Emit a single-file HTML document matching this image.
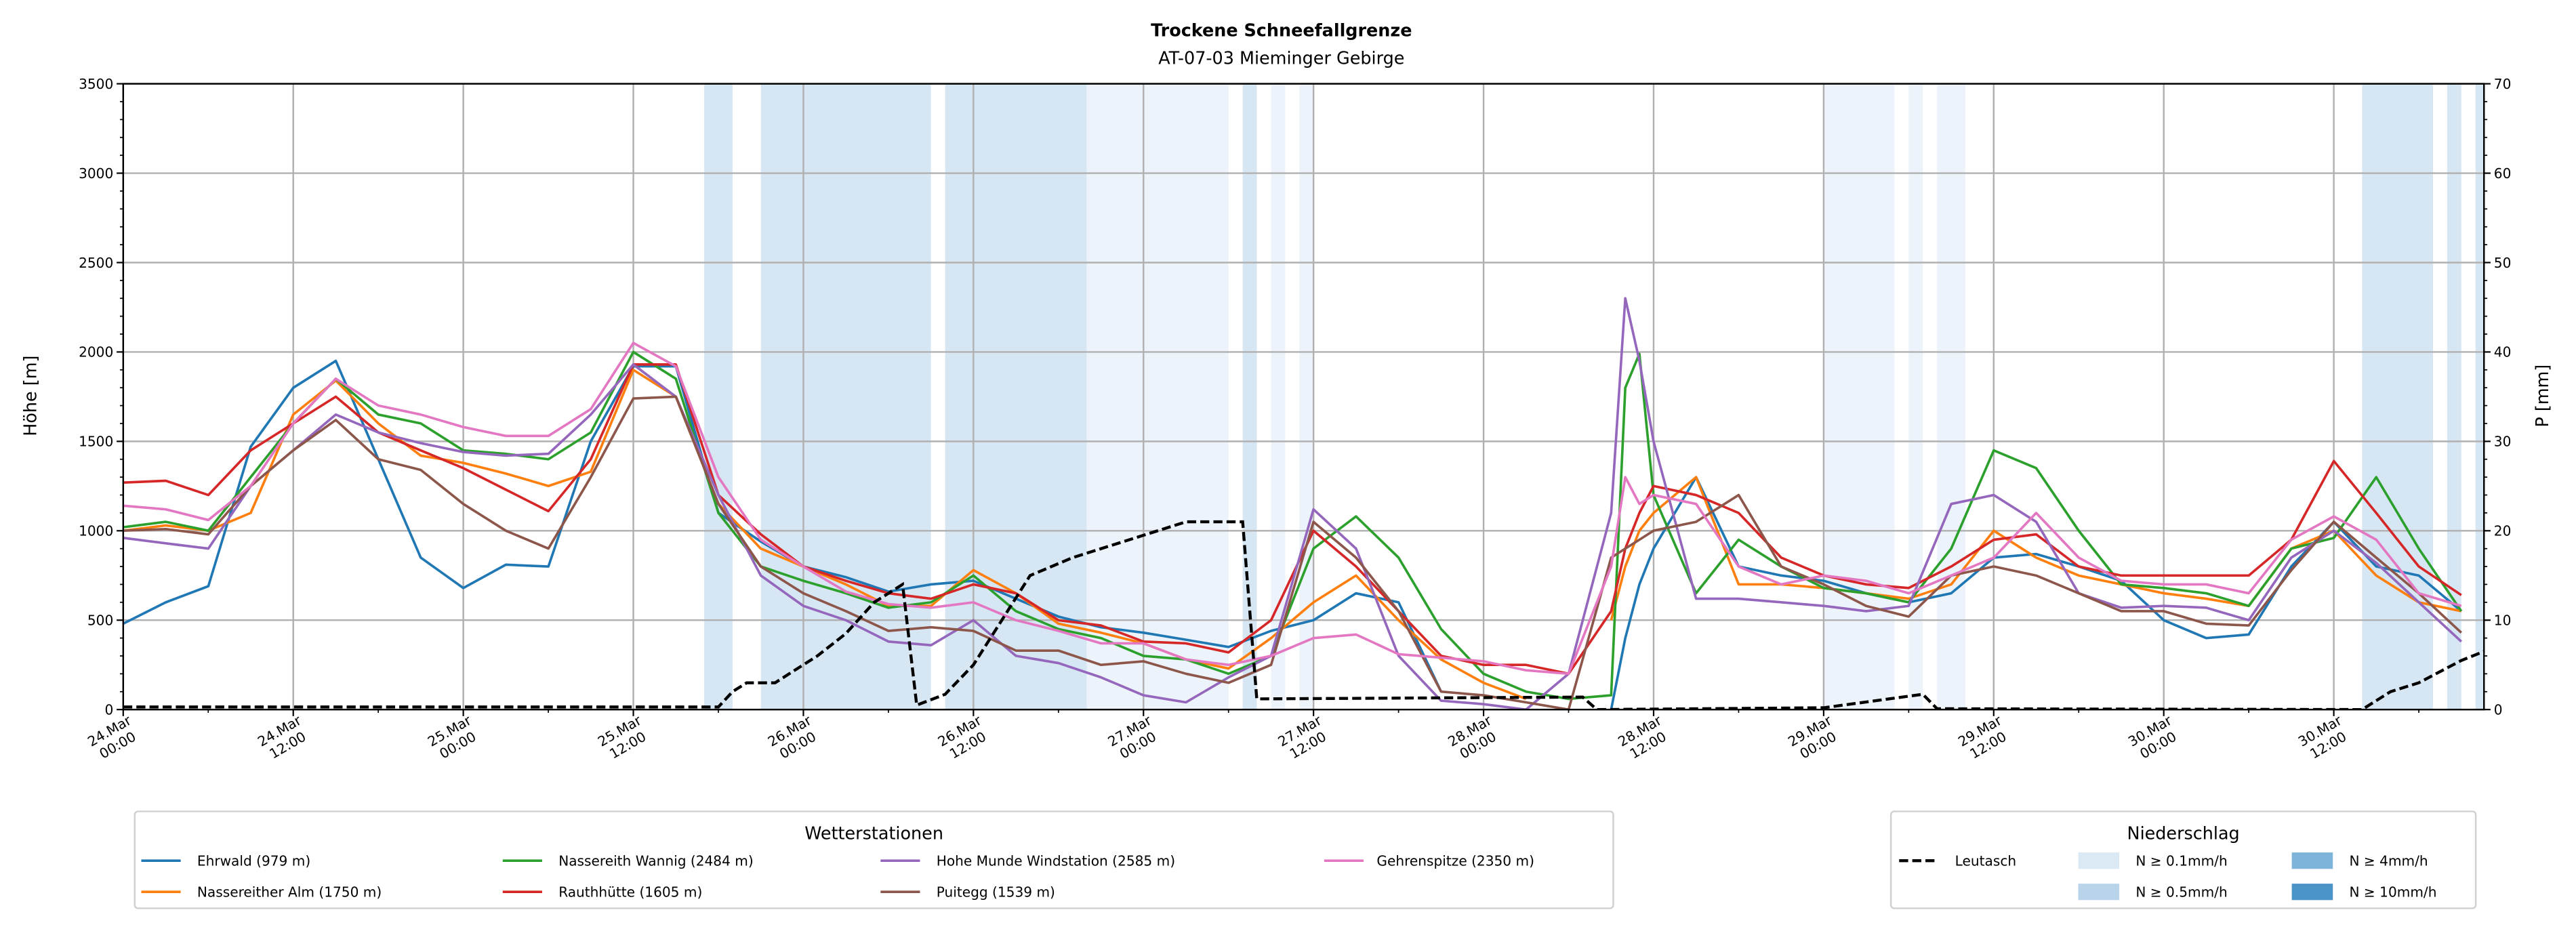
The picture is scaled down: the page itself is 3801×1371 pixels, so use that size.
<!DOCTYPE html>
<html><head><meta charset="utf-8">
<style>
html,body{margin:0;padding:0;background:#fff;}
svg{display:block;font-family:"DejaVu Sans","Liberation Sans",sans-serif;}
</style></head>
<body>
<svg id="chart" width="3801" height="1371" viewBox="0 0 1568 565.6" preserveAspectRatio="none" xmlns="http://www.w3.org/2000/svg">
<rect x="0" y="0" width="1568" height="565.6" fill="#fff"/>
<text x="780" y="22" text-anchor="middle" font-size="10.5" font-weight="bold">Trockene Schneefallgrenze</text>
<text x="780" y="39" text-anchor="middle" font-size="10.5">AT-07-03 Mieminger Gebirge</text>
<g id="bands"></g>
<g id="grid"></g>
<g id="series"></g>
<g id="axes"></g>
<text transform="translate(22,241) rotate(-90)" text-anchor="middle" font-size="10.5">Höhe [m]</text>
<text transform="translate(1551,241) rotate(-90)" text-anchor="middle" font-size="10.5">P [mm]</text>
<g id="legend1">
<rect x="82" y="494" width="900" height="59" fill="#fff" stroke="#d0d0d0" stroke-width="1" rx="2"/>
<text x="532" y="511" text-anchor="middle" font-size="10.5">Wetterstationen</text>
</g>
<g id="legend2">
<rect x="1151" y="494" width="356" height="59" fill="#fff" stroke="#d0d0d0" stroke-width="1" rx="2"/>
<text x="1329" y="511" text-anchor="middle" font-size="10.5">Niederschlag</text>
</g>
</svg>
<script>
const stationNames=["Ehrwald (979 m)","Nassereither Alm (1750 m)","Nassereith Wannig (2484 m)","Rauthhütte (1605 m)","Hohe Munde Windstation (2585 m)","Puitegg (1539 m)","Gehrenspitze (2350 m)"];
const hours=[0,3,6,9,12,15,18,21,24,27,30,33,36,39,42,45,48,51,54,57,60,63,66,69,72,75,78,81,84,87,90,93,96,99,102,105,106,107,108,111,114,117,120,123,126,129,132,135,138,141,144,147,150,153,156,159,162,165];
const ehrwald=[480,600,690,1470,1800,1950,1400,850,680,810,800,1500,1920,1920,1100,940,800,740,660,700,720,620,520,460,430,390,350,440,500,650,600,100,null,null,null,0,400,700,900,1300,800,750,720,650,600,650,850,870,800,720,500,400,420,800,1050,800,750,550];
const nassAlm=[1000,1030,1000,1100,1650,1840,1600,1420,1380,1320,1250,1330,1900,1750,1150,900,800,700,580,580,780,650,480,430,370,280,230,400,600,750,500,280,150,60,null,500,800,1000,1100,1300,700,700,680,650,620,700,1000,850,750,700,650,620,580,900,1000,750,600,550];
const nassWannig=[1020,1050,1000,1300,1600,1850,1650,1600,1450,1430,1400,1550,2000,1850,1100,800,720,650,570,600,750,550,450,400,300,280,200,300,900,1080,850,450,200,100,60,80,1800,1990,1200,650,950,800,680,650,600,900,1450,1350,1000,700,680,650,580,900,960,1300,900,550];
const rauth=[1270,1280,1200,1450,1600,1750,1550,1450,1350,1230,1110,1400,1930,1930,1200,980,800,720,650,620,700,650,500,470,380,370,320,500,1000,800,550,300,250,250,200,550,900,1100,1250,1200,1100,850,750,700,680,800,950,980,800,750,750,750,750,950,1390,1100,800,640];
const hoheMunde=[960,930,900,1250,1450,1650,1550,1490,1440,1420,1430,1650,1930,1750,1200,750,580,500,380,360,500,300,260,180,80,40,180,300,1120,900,300,50,30,0,200,1100,2300,1950,1500,620,620,600,580,550,580,1150,1200,1050,650,570,580,570,500,850,1000,820,600,380];
const puitegg=[1000,1010,980,1250,1450,1620,1400,1340,1150,1000,900,1300,1740,1750,1150,800,650,550,440,460,440,330,330,250,270,200,150,250,1050,850,550,100,80,40,0,850,900,950,1000,1050,1200,800,700,580,520,750,800,750,650,550,550,480,470,780,1050,850,650,430];
const gehren=[1140,1120,1060,1250,1600,1850,1700,1650,1580,1530,1530,1680,2050,1920,1300,950,800,660,590,570,600,500,440,370,370,280,250,300,400,420,310,290,270,220,200,800,1300,1150,1200,1150,800,700,750,720,650,750,850,1100,850,720,700,700,650,950,1080,950,650,580];
const leutaschHours=[0,42,43,44,46,47,49,51,53,55,56,58,60,62,64,67,72,75,79,80,103,104,120,127,128,158,160,162,165,166.6];
const leutaschValues=[0.3,0.3,2,3,3,4,6,8.5,12,14,0.5,1.7,5,10,15,17,19.5,21,21,1.2,1.4,0,0.2,1.7,0.1,0,2,3,5.5,6.5];
const bandStarts=[41,45,58,68,79,81,83,120,126,128,158,164,166];
const bandEnds=[43,57,68,78,80,82,84,125,127,130,163,165,166.6];
const bandLevels=[1,1,1,0,1,0,0,0,0,0,1,1,1];
const yTicks=[0,500,1000,1500,2000,2500,3000,3500];
const y2Ticks=[0,10,20,30,40,50,60,70];
const xTickDays=["24.Mar","24.Mar","25.Mar","25.Mar","26.Mar","26.Mar","27.Mar","27.Mar","28.Mar","28.Mar","29.Mar","29.Mar","30.Mar","30.Mar"];
const xTickTimes=["00:00","12:00","00:00","12:00","00:00","12:00","00:00","12:00","00:00","12:00","00:00","12:00","00:00","12:00"];

const NS="http://www.w3.org/2000/svg";
const L=75,R=1512,T=51,B=432,XMAX=166.6;
const xs=h=>L+h/XMAX*(R-L);
const ys=v=>B-v/3500*(B-T);
const y2s=v=>B-v/70*(B-T);
function mk(tag,attrs,parent){const e=document.createElementNS(NS,tag);for(const k in attrs)e.setAttribute(k,attrs[k]);parent.appendChild(e);return e;}
const bandsG=document.getElementById('bands'),gridG=document.getElementById('grid'),serG=document.getElementById('series'),axG=document.getElementById('axes');
const bandColors=["#edf3fa","#d7e6f3"];
bandStarts.forEach((s,i)=>{
  const r=mk('rect',{x:xs(s),y:T,width:xs(bandEnds[i])-xs(s),height:B-T,fill:bandColors[bandLevels[i]]},bandsG);
  
  
});
yTicks.forEach(v=>{
  mk('line',{x1:L,x2:R,y1:ys(v),y2:ys(v),stroke:"#b0b0b0","stroke-width":1},gridG);
  mk('line',{x1:L-4,x2:L,y1:ys(v),y2:ys(v),stroke:"#000","stroke-width":0.9},axG);
  const t=mk('text',{x:L-6,y:ys(v)+3,"text-anchor":"end","font-size":"8.3"},axG);t.textContent=v;
  
  
});
for(let v=0;v<=3500;v+=100){mk('line',{x1:L-2,x2:L,y1:ys(v),y2:ys(v),stroke:"#000","stroke-width":0.7},axG);}
y2Ticks.forEach(v=>{
  mk('line',{x1:R,x2:R+4,y1:y2s(v),y2:y2s(v),stroke:"#000","stroke-width":0.9},axG);
  const t=mk('text',{x:R+6,y:y2s(v)+3,"font-size":"8.3"},axG);t.textContent=v;
  
  
});
for(let v=0;v<=70;v+=2){mk('line',{x1:R,x2:R+2,y1:y2s(v),y2:y2s(v),stroke:"#000","stroke-width":0.7},axG);}
xTickDays.forEach((d,i)=>{
  const h=i*12,x=xs(h);
  mk('line',{x1:x,x2:x,y1:T,y2:B,stroke:"#b0b0b0","stroke-width":1},gridG);
  mk('line',{x1:x,x2:x,y1:B,y2:B+4,stroke:"#000","stroke-width":0.9},axG);
  const g=mk('g',{transform:`translate(${x+6},${B+8}) rotate(-30)`},axG);
  
  
  const t1=mk('text',{x:-15,y:0,"text-anchor":"middle","font-size":"8.3"},g);t1.textContent=d;
  const t2=mk('text',{x:-15,y:10,"text-anchor":"middle","font-size":"8.3"},g);t2.textContent=xTickTimes[i];
});
for(let h=6;h<XMAX;h+=12){const x=xs(h);mk('line',{x1:x,x2:x,y1:B,y2:B+2,stroke:"#000","stroke-width":0.7},axG);}
mk('rect',{x:L,y:T,width:R-L,height:B-T,fill:"none",stroke:"#000","stroke-width":1},axG);

const colors=["#1f77b4","#ff7f0e","#2ca02c","#d62728","#9467bd","#8c564b","#e377c2"];
const seriesData=[ehrwald,nassAlm,nassWannig,rauth,hoheMunde,puitegg,gehren];
const seriesNames=["ehrwald-line","nassereither-alm-line","nassereith-wannig-line","rauthhuette-line","hohe-munde-line","puitegg-line","gehrenspitze-line"];
const clip=mk('clipPath',{id:'plotclip'},document.getElementById('chart'));
mk('rect',{x:L,y:T,width:R-L,height:B-T},clip);
serG.setAttribute('clip-path','url(#plotclip)');
seriesData.forEach((arr,si)=>{
  let d="",pen=false;
  arr.forEach((v,i)=>{ if(v===null){pen=false;return;} d+=(pen?"L":"M")+xs(hours[i]).toFixed(1)+","+ys(v).toFixed(1); pen=true;});
  const p=mk('path',{d:d,fill:"none",stroke:colors[si],"stroke-width":1.5,"stroke-linejoin":"round"},serG);
  
  
});
let ld="";leutaschHours.forEach((h,i)=>{ld+=(i?"L":"M")+xs(h).toFixed(1)+","+y2s(leutaschValues[i]).toFixed(1);});
const lp=mk('path',{d:ld,fill:"none",stroke:"#000","stroke-width":1.8,"stroke-dasharray":"5.5,2.5"},serG);



const lg1=document.getElementById('legend1');
const legPos=[[86,524],[86,543],[306,524],[306,543],[536,524],[536,543],[806,524]];
const txtX=[120,120,340,340,570,570,838];
legPos.forEach((p,i)=>{
  const g=mk('g',{},lg1);
  
  
  mk('line',{x1:p[0],x2:p[0]+24,y1:p[1],y2:p[1],stroke:colors[i],"stroke-width":1.5},g);
  const t=mk('text',{x:txtX[i],y:p[1]+3,"font-size":"8.3"},g);t.textContent=stationNames[i];
});
const lg2=document.getElementById('legend2');
const g0=mk('g',{},lg2);


mk('line',{x1:1156,x2:1180,y1:524,y2:524,stroke:"#000","stroke-width":1.8,"stroke-dasharray":"5.5,2.5"},g0);
const tl=mk('text',{x:1190,y:527,"font-size":"8.3"},g0);tl.textContent="Leutasch";
const pLabels=["N ≥ 0.1mm/h","N ≥ 0.5mm/h","N ≥ 4mm/h","N ≥ 10mm/h"];
const pCols=["#dbe9f5","#b9d4ea","#7fb4da","#4b94c8"];
const pPos=[[1265,524],[1265,543],[1395,524],[1395,543]];
pLabels.forEach((lab,i)=>{
  const g=mk('g',{},lg2);
  
  
  mk('rect',{x:pPos[i][0],y:pPos[i][1]-5,width:25,height:10,fill:pCols[i]},g);
  const t=mk('text',{x:pPos[i][0]+35,y:pPos[i][1]+3,"font-size":"8.3"},g);t.textContent=lab;
});
</script>
</body></html>
